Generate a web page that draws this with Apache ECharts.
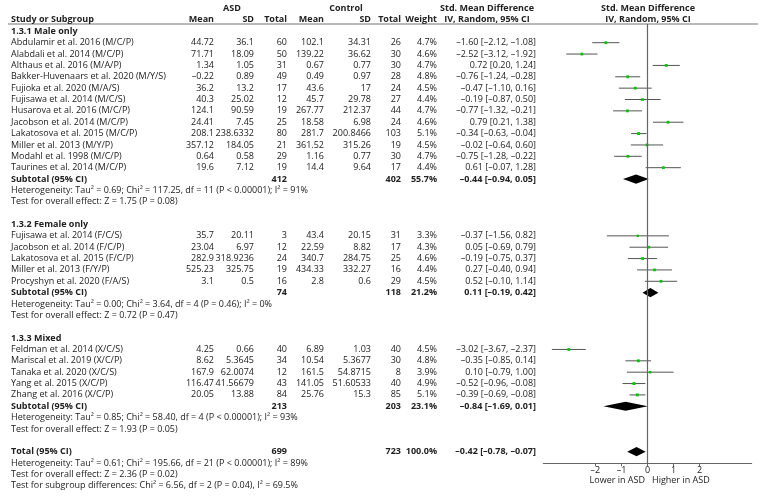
<!DOCTYPE html>
<html><head><meta charset="utf-8">
<script src="https://cdn.jsdelivr.net/npm/echarts@6/dist/echarts.min.js"></script>
<style>html,body{margin:0;padding:0;background:#fff}#c{width:765px;height:497px}</style>
</head><body><div id="c"></div><script>
// ---------- data ----------
const groupTitles = ['1.3.1 Male only', '1.3.2 Female only', '1.3.3 Mixed'];
const studyGroup = [0,0,0,0,0,0,0,0,0,0,0,0, 1,1,1,1,1, 2,2,2,2,2];
const studyNames = [
  'Abdulamir et al. 2016 (M/C/P)', 'Alabdali et al. 2014 (M/C/P)', 'Althaus et al. 2016 (M/A/P)',
  'Bakker-Huvenaars et al. 2020 (M/Y/S)', 'Fujioka et al. 2020 (M/A/S)', 'Fujisawa et al. 2014 (M/C/S)',
  'Husarova et al. 2016 (M/C/P)', 'Jacobson et al. 2014 (M/C/P)', 'Lakatosova et al. 2015 (M/C/P)',
  'Miller et al. 2013 (M/Y/P)', 'Modahl et al. 1998 (M/C/P)', 'Taurines et al. 2014 (M/C/P)',
  'Fujisawa et al. 2014 (F/C/S)', 'Jacobson et al. 2014 (F/C/P)', 'Lakatosova et al. 2015 (F/C/P)',
  'Miller et al. 2013 (F/Y/P)', 'Procyshyn et al. 2020 (F/A/S)',
  'Feldman et al. 2014 (X/C/S)', 'Mariscal et al. 2019 (X/C/P)', 'Tanaka et al. 2020 (X/C/S)',
  'Yang et al. 2015 (X/C/P)', 'Zhang et al. 2016 (X/C/P)'
];
const asdMean  = [44.72, 71.71, 1.34, -0.22, 36.2, 40.3, 124.1, 24.41, 208.1, 357.12, 0.64, 19.6,
                  35.7, 23.04, 282.9, 525.23, 3.1, 4.25, 8.62, 167.9, 116.47, 20.05];
const asdSD    = [36.1, 18.09, 1.05, 0.89, 13.2, 25.02, 90.59, 7.45, 238.6332, 184.05, 0.58, 7.12,
                  20.11, 6.97, 318.9236, 325.75, 0.5, 0.66, 5.3645, 62.0074, 41.56679, 13.88];
const asdTotal = [60, 50, 31, 49, 17, 12, 19, 25, 80, 21, 29, 19, 3, 12, 24, 19, 16, 40, 34, 12, 43, 84];
const ctrlMean = [102.1, 139.22, 0.67, 0.49, 43.6, 45.7, 267.77, 18.58, 281.7, 361.52, 1.16, 14.4,
                  43.4, 22.59, 340.7, 434.33, 2.8, 6.89, 10.54, 161.5, 141.05, 25.76];
const ctrlSD   = [34.31, 36.62, 0.77, 0.97, 17, 29.78, 212.37, 6.98, 200.8466, 315.26, 0.77, 9.64,
                  20.15, 8.82, 284.75, 332.27, 0.6, 1.03, 5.3677, 54.8715, 51.60533, 15.3];
const ctrlTotal= [26, 30, 30, 28, 24, 27, 44, 24, 103, 19, 30, 17, 31, 17, 25, 16, 29, 40, 30, 8, 40, 85];
const weights  = [4.7, 4.6, 4.7, 4.8, 4.5, 4.4, 4.7, 4.6, 5.1, 4.5, 4.7, 4.4, 3.3, 4.3, 4.6, 4.4, 4.5,
                  4.5, 4.8, 3.9, 4.9, 5.1];
const smd      = [-1.60, -2.52, 0.72, -0.76, -0.47, -0.19, -0.77, 0.79, -0.34, -0.02, -0.75, 0.61,
                  -0.37, 0.05, -0.19, 0.27, 0.52, -3.02, -0.35, 0.10, -0.52, -0.39];
const ciLow    = [-2.12, -3.12, 0.20, -1.24, -1.10, -0.87, -1.32, 0.21, -0.63, -0.64, -1.28, -0.07,
                  -1.56, -0.69, -0.75, -0.40, -0.10, -3.67, -0.85, -0.79, -0.96, -0.69];
const ciHigh   = [-1.08, -1.92, 1.24, -0.28, 0.16, 0.50, -0.21, 1.38, -0.04, 0.60, -0.22, 1.28,
                  0.82, 0.79, 0.37, 0.94, 1.14, -2.37, 0.14, 1.00, -0.08, -0.08];

const subAsdTotal  = [412, 74, 213];
const subCtrlTotal = [402, 118, 203];
const subWeight    = [55.7, 21.2, 23.1];
const subSmd       = [-0.44, 0.11, -0.84];
const subLow       = [-0.94, -0.19, -1.69];
const subHigh      = [0.05, 0.42, 0.01];
const subHet = [
  'Heterogeneity: Tau² = 0.69; Chi² = 117.25, df = 11 (P < 0.00001); I² = 91%',
  'Heterogeneity: Tau² = 0.00; Chi² = 3.64, df = 4 (P = 0.46); I² = 0%',
  'Heterogeneity: Tau² = 0.85; Chi² = 58.40, df = 4 (P < 0.00001); I² = 93%'
];
const subTest = [
  'Test for overall effect: Z = 1.75 (P = 0.08)',
  'Test for overall effect: Z = 0.72 (P = 0.47)',
  'Test for overall effect: Z = 1.93 (P = 0.05)'
];
const totalCounts = [699, 723];
const totalWeight = 100.0;
const totalEffect = [-0.42, -0.78, -0.07];
const totalNotes = [
  'Heterogeneity: Tau² = 0.61; Chi² = 195.66, df = 21 (P < 0.00001); I² = 89%',
  'Test for overall effect: Z = 2.36 (P = 0.02)',
  'Test for subgroup differences: Chi² = 6.56, df = 2 (P = 0.04), I² = 69.5%'
];
const tickValues = [-2, -1, 0, 1, 2];
const favourLabels = ['Lower in ASD', 'Higher in ASD'];

// ---------- layout ----------
const FONT = 'Open Sans';
const FS = 9;
const TXT = '#222';
const COL = { name: 11, mean: 214, sd: 254, tot: 287, cmean: 324, csd: 371, ctot: 401, w: 437, ci: 536 };
const neg = v => String(v).replace('-', '–');
const f2 = v => neg(v.toFixed(2));
const ciStr = (e, l, h) => `${f2(e)} [${f2(l)}, ${f2(h)}]`;

const texts = [];
function T(row, x, text, align, bold) { texts.push({ row, x, text: String(text), align: align || 'right', bold: !!bold }); }

// header
T(-3.05, 232, 'ASD', 'center', true);
T(-3.05, 346, 'Control', 'center', true);
T(-3.05, 487, 'Std. Mean Difference', 'center', true);
T(-3.05, 648, 'Std. Mean Difference', 'center', true);
T(-2.05, COL.name, 'Study or Subgroup', 'left', true);
T(-2.05, COL.mean, 'Mean', 'right', true);
T(-2.05, COL.sd, 'SD', 'right', true);
T(-2.05, COL.tot, 'Total', 'right', true);
T(-2.05, COL.cmean, 'Mean', 'right', true);
T(-2.05, COL.csd, 'SD', 'right', true);
T(-2.05, COL.ctot, 'Total', 'right', true);
T(-2.05, COL.w, 'Weight', 'right', true);
T(-2.05, 487, 'IV, Random, 95% CI', 'center', true);
T(-2.05, 648, 'IV, Random, 95% CI', 'center', true);

const studyPts = [];
const diamonds = [];
let r = -1;
for (let g = 0; g < groupTitles.length; g++) {
  T(r, COL.name, groupTitles[g], 'left', true);
  r++;
  for (let i = 0; i < studyNames.length; i++) {
    if (studyGroup[i] !== g) continue;
    T(r, COL.name, studyNames[i], 'left');
    T(r, COL.mean, neg(asdMean[i]));
    T(r, COL.sd, asdSD[i]);
    T(r, COL.tot, asdTotal[i]);
    T(r, COL.cmean, neg(ctrlMean[i]));
    T(r, COL.csd, ctrlSD[i]);
    T(r, COL.ctot, ctrlTotal[i]);
    T(r, COL.w, weights[i].toFixed(1) + '%');
    T(r, COL.ci, ciStr(smd[i], ciLow[i], ciHigh[i]));
    studyPts.push([smd[i], r, ciLow[i], ciHigh[i], weights[i]]);
    r++;
  }
  T(r, COL.name, 'Subtotal (95% CI)', 'left', true);
  T(r, COL.tot, subAsdTotal[g], 'right', true);
  T(r, COL.ctot, subCtrlTotal[g], 'right', true);
  T(r, COL.w, subWeight[g].toFixed(1) + '%', 'right', true);
  T(r, COL.ci, ciStr(subSmd[g], subLow[g], subHigh[g]), 'right', true);
  diamonds.push([subSmd[g], r, subLow[g], subHigh[g]]);
  r++;
  T(r, COL.name, subHet[g], 'left'); r++;
  T(r, COL.name, subTest[g], 'left'); r++;
  r++; // blank
}
T(r, COL.name, 'Total (95% CI)', 'left', true);
T(r, COL.tot, totalCounts[0], 'right', true);
T(r, COL.ctot, totalCounts[1], 'right', true);
T(r, COL.w, totalWeight.toFixed(1) + '%', 'right', true);
T(r, COL.ci, ciStr(totalEffect[0], totalEffect[1], totalEffect[2]), 'right', true);
diamonds.push([totalEffect[0], r, totalEffect[1], totalEffect[2]]);
r++;
for (const n of totalNotes) { T(r, COL.name, n, 'left'); r++; }
T(38.5, 645, favourLabels[0], 'right');
T(38.5, 652, favourLabels[1], 'left');

// ---------- chart ----------
const chart = echarts.init(document.getElementById('c'), null, { renderer: 'canvas' });
chart.setOption({
  animation: false,
  backgroundColor: '#fff',
  grid: [
    { left: 543.3, top: 24, width: 208.4, height: 439.3 },
    { left: 0, top: 0, width: 765, height: 497 }
  ],
  xAxis: [
    { gridIndex: 0, type: 'value', min: -4, max: 4, position: 'bottom',
      axisLine: { show: true, onZero: false, lineStyle: { color: '#666', width: 1 } },
      axisTick: { show: true, length: 3, customValues: tickValues, lineStyle: { color: '#666' } },
      axisLabel: { customValues: tickValues, formatter: v => neg(v), margin: 3,
        fontFamily: FONT, fontSize: FS, color: TXT },
      splitLine: { show: false } },
    { gridIndex: 1, type: 'value', min: 0, max: 765, show: false }
  ],
  yAxis: [
    { gridIndex: 0, type: 'value', min: -1.646, max: 37.02, inverse: true, show: false },
    { gridIndex: 1, type: 'value', min: -3.759, max: 39.99, inverse: true, show: false }
  ],
  graphic: [
    { type: 'line', shape: { x1: 8, y1: 24, x2: 758, y2: 24 }, style: { stroke: '#777', lineWidth: 1.2 }, silent: true }
  ],
  series: [
    {
      type: 'custom', xAxisIndex: 0, yAxisIndex: 0, data: studyPts, clip: false,
      encode: { x: 0, y: 1 },
      renderItem: (p, api) => {
        const c = api.coord([api.value(0), api.value(1)]);
        const l = api.coord([api.value(2), api.value(1)]);
        const h = api.coord([api.value(3), api.value(1)]);
        const s = 1.3 * Math.sqrt(api.value(4));
        return { type: 'group', children: [
          { type: 'line', shape: { x1: l[0], y1: c[1], x2: h[0], y2: c[1] }, style: { stroke: '#555', lineWidth: 1 } },
          { type: 'rect', shape: { x: c[0] - s / 2, y: c[1] - s / 2, width: s, height: s }, style: { fill: '#00c800' } }
        ] };
      },
      markLine: { silent: true, symbol: 'none', label: { show: false },
        lineStyle: { color: '#666', width: 1.2, type: 'solid' }, data: [{ xAxis: 0 }] }
    },
    {
      type: 'custom', xAxisIndex: 0, yAxisIndex: 0, data: diamonds, clip: false,
      encode: { x: 0, y: 1 },
      renderItem: (p, api) => {
        const c = api.coord([api.value(0), api.value(1)]);
        const l = api.coord([api.value(2), api.value(1)]);
        const h = api.coord([api.value(3), api.value(1)]);
        return { type: 'polygon', shape: { points: [[l[0], c[1]], [c[0], c[1] - 4.6], [h[0], c[1]], [c[0], c[1] + 4.6]] },
          style: { fill: '#000' } };
      }
    },
    {
      type: 'custom', xAxisIndex: 1, yAxisIndex: 1, clip: false,
      data: texts.map(t => [t.x, t.row]),
      renderItem: (p, api) => {
        const t = texts[p.dataIndex];
        const pt = api.coord([t.x, t.row]);
        return { type: 'text', x: pt[0], y: pt[1], style: { text: t.text, fill: TXT,
          font: (t.bold ? 'bold ' : '') + FS + 'px "' + FONT + '"', align: t.align, verticalAlign: 'middle' } };
      }
    }
  ]
});
</script></body></html>
